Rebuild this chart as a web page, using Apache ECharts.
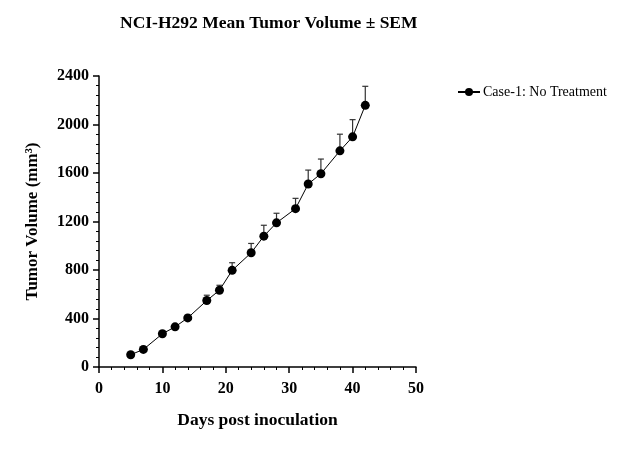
<!DOCTYPE html>
<html>
<head>
<meta charset="utf-8">
<script src="https://cdn.jsdelivr.net/npm/echarts@6/dist/echarts.min.js"></script>
<style>
  html, body { margin: 0; padding: 0; background: #fff; }
  #chart { width: 625px; height: 459px; }
</style>
</head>
<body>
<div id="chart"></div>
<script>
// data
const days = [5, 7, 10, 12, 14, 17, 19, 21, 24, 26, 28, 31, 33, 35, 38, 40, 42];
const meanVolume = [101, 145, 274, 331, 405, 548, 633, 797, 942, 1079, 1189, 1306, 1509, 1594, 1783, 1898, 2158];
const sem = [5, 8, 14, 18, 20, 44, 41, 63, 77, 90, 79, 85, 115, 121, 137, 142, 157];
const seriesName = 'Case-1: No Treatment';

const font = 'Liberation Serif, Times New Roman, serif';

const chart = echarts.init(document.getElementById('chart'));

const points = days.map((d, i) => [d, meanVolume[i]]);
const errData = days.map((d, i) => [d, meanVolume[i], meanVolume[i] + sem[i]]);

// upper error whisker with cap (SEM)
const renderError = (params, api) => {
    const base = api.coord([api.value(0), api.value(1)]);
    const top = api.coord([api.value(0), api.value(2)]);
    const half = 3;
    const style = { stroke: '#333', lineWidth: 1.2, fill: null };
    return {
        type: 'group',
        children: [
            { type: 'line', shape: { x1: base[0], y1: base[1], x2: top[0], y2: top[1] }, style: style },
            { type: 'line', shape: { x1: top[0] - half, y1: top[1], x2: top[0] + half, y2: top[1] }, style: style }
        ]
    };
};

const option = {
    backgroundColor: '#fff',
    animation: false,
    title: {
        text: 'NCI-H292 Mean Tumor Volume ± SEM',
        left: 115,
        top: 9,
        textStyle: { fontFamily: font, fontWeight: 'bold', fontSize: 17.5, color: '#000' }
    },
    legend: {
        data: [seriesName],
        left: 452,
        top: 80,
        itemWidth: 22,
        itemHeight: 10,
        itemGap: 8,
        textStyle: { fontFamily: font, fontSize: 14, color: '#000', padding: [0, 0, 0, -2] }
    },
    grid: { left: 99, right: 209, top: 76, bottom: 92 },
    xAxis: {
        type: 'value',
        min: 0,
        max: 50,
        interval: 10,
        name: 'Days post inoculation',
        nameLocation: 'middle',
        nameGap: 44,
        nameTextStyle: { fontFamily: font, fontWeight: 'bold', fontSize: 17.5, color: '#000' },
        axisLine: { lineStyle: { color: '#000', width: 1.5 } },
        axisTick: { length: 6, lineStyle: { color: '#000', width: 1.5 } },
        minorTick: { show: true, splitNumber: 5, length: 3, lineStyle: { color: '#000', width: 1 } },
        axisLabel: { fontFamily: font, fontWeight: 'bold', fontSize: 16, color: '#000', margin: 14 },
        splitLine: { show: false }
    },
    yAxis: {
        type: 'value',
        min: 0,
        max: 2400,
        interval: 400,
        name: 'Tumor Volume (mm³)',
        nameLocation: 'middle',
        nameGap: 58,
        nameTextStyle: { fontFamily: font, fontWeight: 'bold', fontSize: 17, color: '#000' },
        axisLine: { show: true, lineStyle: { color: '#000', width: 1.5 } },
        axisTick: { show: true, length: 6, lineStyle: { color: '#000', width: 1.5 } },
        minorTick: { show: true, splitNumber: 5, length: 3, lineStyle: { color: '#000', width: 1 } },
        axisLabel: {
            fontFamily: font, fontWeight: 'bold', fontSize: 16, color: '#000', margin: 10,
            formatter: (v) => String(v)
        },
        splitLine: { show: false }
    },
    series: [
        {
            name: 'sem',
            type: 'custom',
            renderItem: renderError,
            data: errData,
            encode: { x: 0, y: [1, 2] },
            z: 1
        },
        {
            name: seriesName,
            type: 'line',
            data: points,
            symbol: 'circle',
            symbolSize: 9,
            itemStyle: { color: '#000' },
            lineStyle: { color: '#000', width: 1 },
            z: 2
        }
    ]
};

chart.setOption(option);
</script>
</body>
</html>
